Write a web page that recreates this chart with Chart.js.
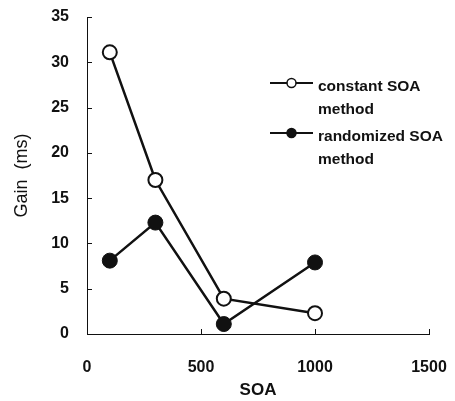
<!DOCTYPE html>
<html>
<head>
<meta charset="utf-8">
<script src="https://cdn.jsdelivr.net/npm/chart.js@4"></script>
<style>
  html, body { margin: 0; padding: 0; background: #fff; }
  #wrap { width: 455px; height: 401px; }
</style>
</head>
<body>
<div id="wrap"><canvas id="gainChart" width="455" height="401"></canvas></div>
<script>
// SOA (ms) tested in each condition
const soaValues = [100, 300, 600, 1000];
// gain (ms) for each method
const constantGain = [31.1, 17.0, 3.9, 2.3];
const randomizedGain = [8.1, 12.3, 1.1, 7.9];
// axis ticks
const xTicks = [0, 500, 1000, 1500];
const yTicks = [0, 5, 10, 15, 20, 25, 30, 35];
// legend text, one line per entry
const legendLabels = [['constant SOA', 'method'], ['randomized SOA', 'method']];

const INK = '#111';
const FONT = '"Liberation Sans", Arial, sans-serif';

function toPoints(xs, ys) {
    return xs.map((x, i) => ({ x: x, y: ys[i] }));
}

// inward tick marks on both axes
const innerTicks = {
    id: 'innerTicks',
    afterDraw(chart) {
        const ctx = chart.ctx;
        const xs = chart.scales.x, ys = chart.scales.y;
        const area = chart.chartArea;
        ctx.save();
        ctx.strokeStyle = INK;
        ctx.lineWidth = 1;
        ctx.beginPath();
        xTicks.forEach(v => {
            if (v === 0) return;
            const px = Math.round(xs.getPixelForValue(v)) + 0.5;
            ctx.moveTo(px, area.bottom);
            ctx.lineTo(px, area.bottom - 5);
        });
        yTicks.forEach(v => {
            if (v === 0) return;
            const py = Math.round(ys.getPixelForValue(v)) + 0.5;
            ctx.moveTo(area.left, py);
            ctx.lineTo(area.left + 5, py);
        });
        ctx.stroke();
        ctx.restore();
    }
};

// legend with two-line labels, drawn from the dataset styles
const sideLegend = {
    id: 'sideLegend',
    afterDraw(chart) {
        const ctx = chart.ctx;
        const x0 = 270, x1 = 313, textX = 318;
        const rowTops = [83, 133];
        const lineGap = 23;
        ctx.save();
        chart.data.datasets.forEach((ds, i) => {
            const y = rowTops[i];
            ctx.strokeStyle = ds.borderColor;
            ctx.lineWidth = 2;
            ctx.beginPath();
            ctx.moveTo(x0, y);
            ctx.lineTo(x1, y);
            ctx.stroke();
            ctx.beginPath();
            ctx.arc((x0 + x1) / 2, y, 4.5, 0, Math.PI * 2);
            ctx.fillStyle = ds.pointBackgroundColor;
            ctx.fill();
            ctx.lineWidth = 1.5;
            ctx.stroke();
            ctx.fillStyle = INK;
            ctx.font = 'bold 15.5px ' + FONT;
            ctx.textBaseline = 'middle';
            ctx.textAlign = 'left';
            legendLabels[i].forEach((line, j) => {
                ctx.fillText(line, textX, y + 4 + j * lineGap);
            });
        });
        ctx.restore();
    }
};

function renderChart() {
    const ctx = document.getElementById('gainChart').getContext('2d');
    new Chart(ctx, {
        type: 'line',
        data: {
            datasets: [{
                label: 'constant SOA method',
                data: toPoints(soaValues, constantGain),
                borderColor: INK,
                borderWidth: 2.5,
                pointRadius: 7,
                pointBorderWidth: 2,
                pointBackgroundColor: '#fff',
                pointBorderColor: INK,
                tension: 0
            }, {
                label: 'randomized SOA method',
                data: toPoints(soaValues, randomizedGain),
                borderColor: INK,
                borderWidth: 2.5,
                pointRadius: 7.5,
                pointBorderWidth: 1,
                pointBackgroundColor: INK,
                pointBorderColor: INK,
                tension: 0
            }]
        },
        options: {
            responsive: false,
            animation: false,
            layout: { autoPadding: false, padding: { top: 17, right: 26, left: 0, bottom: 0 } },
            plugins: {
                legend: { display: false },
                tooltip: { enabled: false }
            },
            scales: {
                x: {
                    type: 'linear',
                    min: 0,
                    max: 1500,
                    afterBuildTicks: s => { s.ticks = xTicks.map(v => ({ value: v })); },
                    afterFit: s => {
                        s.height = 67;
                        s.paddingLeft = 0;
                        s.paddingRight = 0;
                    },
                    grid: { display: false, drawTicks: false },
                    border: { display: true, color: INK, width: 1 },
                    ticks: {
                        color: INK,
                        padding: 24,
                        callback: v => String(v),
                        font: { family: FONT, size: 16, weight: 'bold' }
                    },
                    title: {
                        display: true,
                        text: 'SOA',
                        color: INK,
                        padding: { top: 0, bottom: 0 },
                        font: { family: FONT, size: 17, weight: 'bold' }
                    }
                },
                y: {
                    type: 'linear',
                    min: 0,
                    max: 35,
                    afterBuildTicks: s => { s.ticks = yTicks.map(v => ({ value: v })); },
                    afterFit: s => {
                        s.width = 87;
                        s.paddingTop = 0;
                        s.paddingBottom = 0;
                    },
                    grid: { display: false, drawTicks: false },
                    border: { display: true, color: INK, width: 1 },
                    ticks: {
                        color: INK,
                        padding: 18,
                        callback: v => String(v),
                        font: { family: FONT, size: 16, weight: 'bold' }
                    },
                    title: {
                        display: true,
                        text: 'Gain  (ms)',
                        color: INK,
                        padding: { top: 11, bottom: 0 },
                        font: { family: FONT, size: 18 }
                    }
                }
            }
        },
        plugins: [innerTicks, sideLegend]
    });
}

document.addEventListener('DOMContentLoaded', renderChart);
</script>
</body>
</html>
